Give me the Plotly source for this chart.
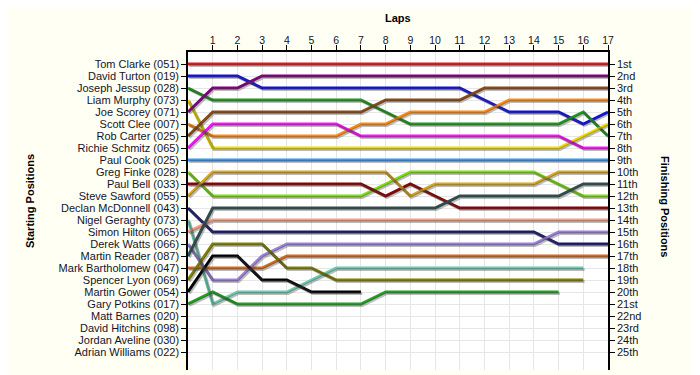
import plotly.graph_objects as go

laps = list(range(0, 18))
lap_ticks = list(range(1, 18))

drivers = ["Tom Clarke (051)", "David Turton (019)", "Joseph Jessup (028)", "Liam Murphy (073)",
           "Joe Scorey (071)", "Scott Clee (007)", "Rob Carter (025)", "Richie Schmitz (065)",
           "Paul Cook (025)", "Greg Finke (028)", "Paul Bell (033)", "Steve Sawford (055)",
           "Declan McDonnell (043)", "Nigel Geraghty (073)", "Simon Hilton (065)", "Derek Watts (066)",
           "Martin Reader (087)", "Mark Bartholomew (047)", "Spencer Lyon (069)", "Martin Gower (054)",
           "Gary Potkins (017)", "Matt Barnes (020)", "David Hitchins (098)", "Jordan Aveline (030)",
           "Adrian Williams (022)"]

finish_labels = ["1st", "2nd", "3rd", "4th", "5th", "6th", "7th", "8th", "9th", "10th", "11th", "12th",
                 "13th", "14th", "15th", "16th", "17th", "18th", "19th", "20th", "21st", "22nd", "23rd",
                 "24th", "25th"]

tom_clarke = [1, 1, 1, 1, 1, 1, 1, 1, 1, 1, 1, 1, 1, 1, 1, 1, 1, 1]
david_turton = [2, 2, 2, 3, 3, 3, 3, 3, 3, 3, 3, 3, 4, 5, 5, 5, 6, 5]
joseph_jessup = [3, 4, 4, 4, 4, 4, 4, 4, 5, 6, 6, 6, 6, 6, 6, 6, 5, 7]
liam_murphy = [4, 8, 8, 8, 8, 8, 8, 8, 8, 8, 8, 8, 8, 8, 8, 8, 7, 6]
joe_scorey = [5, 3, 3, 2, 2, 2, 2, 2, 2, 2, 2, 2, 2, 2, 2, 2, 2, 2]
scott_clee = [6, 7, 7, 7, 7, 7, 7, 6, 6, 5, 5, 5, 5, 4, 4, 4, 4, 4]
rob_carter = [7, 5, 5, 5, 5, 5, 5, 5, 4, 4, 4, 4, 3, 3, 3, 3, 3, 3]
richie_schmitz = [8, 6, 6, 6, 6, 6, 6, 7, 7, 7, 7, 7, 7, 7, 7, 7, 8, 8]
paul_cook = [9, 9, 9, 9, 9, 9, 9, 9, 9, 9, 9, 9, 9, 9, 9, 9, 9, 9]
greg_finke = [10, 12, 12, 12, 12, 12, 12, 12, 11, 10, 10, 10, 10, 10, 10, 11, 12, 12]
paul_bell = [11, 11, 11, 11, 11, 11, 11, 11, 12, 11, 12, 13, 13, 13, 13, 13, 13, 13]
steve_sawford = [12, 10, 10, 10, 10, 10, 10, 10, 10, 12, 11, 11, 11, 11, 11, 10, 10, 10]
declan_mcdonnell = [13, 15, 15, 15, 15, 15, 15, 15, 15, 15, 15, 15, 15, 15, 15, 16, 16, 16]
nigel_geraghty = [14, 21, 20, 20, 20, 19, 18, 18, 18, 18, 18, 18, 18, 18, 18, 18, 18]
simon_hilton = [15, 14, 14, 14, 14, 14, 14, 14, 14, 14, 14, 14, 14, 14, 14, 14, 14, 14]
derek_watts = [16, 19, 19, 17, 16, 16, 16, 16, 16, 16, 16, 16, 16, 16, 16, 15, 15, 15]
martin_reader = [17, 13, 13, 13, 13, 13, 13, 13, 13, 13, 13, 12, 12, 12, 12, 12, 11, 11]
mark_bartholomew = [18, 18, 18, 18, 17, 17, 17, 17, 17, 17, 17, 17, 17, 17, 17, 17, 17, 17]
spencer_lyon = [19, 16, 16, 16, 18, 18, 19, 19, 19, 19, 19, 19, 19, 19, 19, 19, 19]
martin_gower = [20, 17, 17, 19, 19, 20, 20, 20]
gary_potkins = [21, 20, 21, 21, 21, 21, 21, 21, 20, 20, 20, 20, 20, 20, 20, 20]

series = [
    (tom_clarke, "#E8141C"), (david_turton, "#1010E0"), (joseph_jessup, "#1F9A1F"),
    (liam_murphy, "#F2DC00"), (joe_scorey, "#800080"), (scott_clee, "#FF8A10"),
    (rob_carter, "#8B4A14"), (richie_schmitz, "#FF10FF"), (paul_cook, "#3A96F0"),
    (greg_finke, "#7FE010"), (paul_bell, "#8B0000"), (steve_sawford, "#DAA520"),
    (declan_mcdonnell, "#191970"), (nigel_geraghty, "#6CCCB0"), (simon_hilton, "#F7A080"),
    (derek_watts, "#9A80DC"), (martin_reader, "#2F4F4F"), (mark_bartholomew, "#D2691E"),
    (spencer_lyon, "#808000"), (martin_gower, "#000000"), (gary_potkins, "#22A022"),
]

XR = [0, 17]
YR = [26.5, 0]
dx = 1.3 / 24.7
dy = 1.4 / 12.0

fig = go.Figure()

# shadows
for vals, col in series:
    fig.add_trace(go.Scatter(x=laps[:len(vals)], y=vals, mode="lines", xaxis="x2", yaxis="y3",
                             line=dict(color="rgba(60,60,60,0.35)", width=3),
                             hoverinfo="skip", showlegend=False))
# main lines
for (vals, col), name in zip(series, drivers):
    fig.add_trace(go.Scatter(x=laps[:len(vals)], y=vals, mode="lines", name=name,
                             line=dict(color=col, width=3), showlegend=False))
# dummy trace for right axis
fig.add_trace(go.Scatter(x=laps, y=paul_cook, mode="lines", yaxis="y2", line=dict(width=0),
                         opacity=0, hoverinfo="skip", showlegend=False))

font = dict(family="Liberation Sans, Arial, sans-serif", size=11, color="#141428")

fig.update_layout(
    width=692, height=367,
    margin=dict(l=180, r=92, t=44, b=5),
    paper_bgcolor="#FFFFF4", plot_bgcolor="#FFFFFF",
    font=font,
    xaxis=dict(range=XR, side="top", tickvals=lap_ticks, ticks="outside", ticklen=5,
               tickcolor="black", showline=True, linecolor="black", linewidth=1.5,
               showgrid=True, gridcolor="#E6E6E6", gridwidth=1, zeroline=False,
               ticklabelstandoff=-3,
               tickfont=dict(size=10.5, color="#141428")),
    xaxis2=dict(range=[XR[0] - dx, XR[1] - dx], overlaying="x", visible=False),
    yaxis=dict(range=YR, tickvals=list(range(1, 26)), ticktext=drivers, ticks="outside",
               ticklen=5, tickcolor="black", showline=True, linecolor="black", linewidth=1.5,
               showgrid=True, gridcolor="#E6E6E6", zeroline=False),
    yaxis2=dict(range=YR, overlaying="y", side="right", tickvals=list(range(1, 26)),
                ticktext=finish_labels, ticks="outside", ticklen=5, tickcolor="black",
                showline=True, linecolor="black", linewidth=1.5, showgrid=False, zeroline=False),
    yaxis3=dict(range=[YR[0] - dy, YR[1] - dy], overlaying="y", visible=False),
    annotations=[
        dict(text="<b>Laps</b>", xref="paper", yref="paper", x=0.5, y=1, yshift=34,
             xanchor="center", yanchor="middle",
             showarrow=False, font=dict(size=11, color="black")),
        dict(text="<b>Starting Positions</b>", xref="paper", yref="paper", x=0, xshift=-158,
             xanchor="center", yanchor="middle",
             y=0.5, yshift=10, textangle=-90, showarrow=False, font=dict(size=11, color="black")),
        dict(text="<b>Finishing Positions</b>", xref="paper", yref="paper", x=1, xshift=57,
             xanchor="center", yanchor="middle",
             y=0.5, yshift=5, textangle=90, showarrow=False, font=dict(size=11, color="black")),
    ],
)

fig.write_html("out.html")
